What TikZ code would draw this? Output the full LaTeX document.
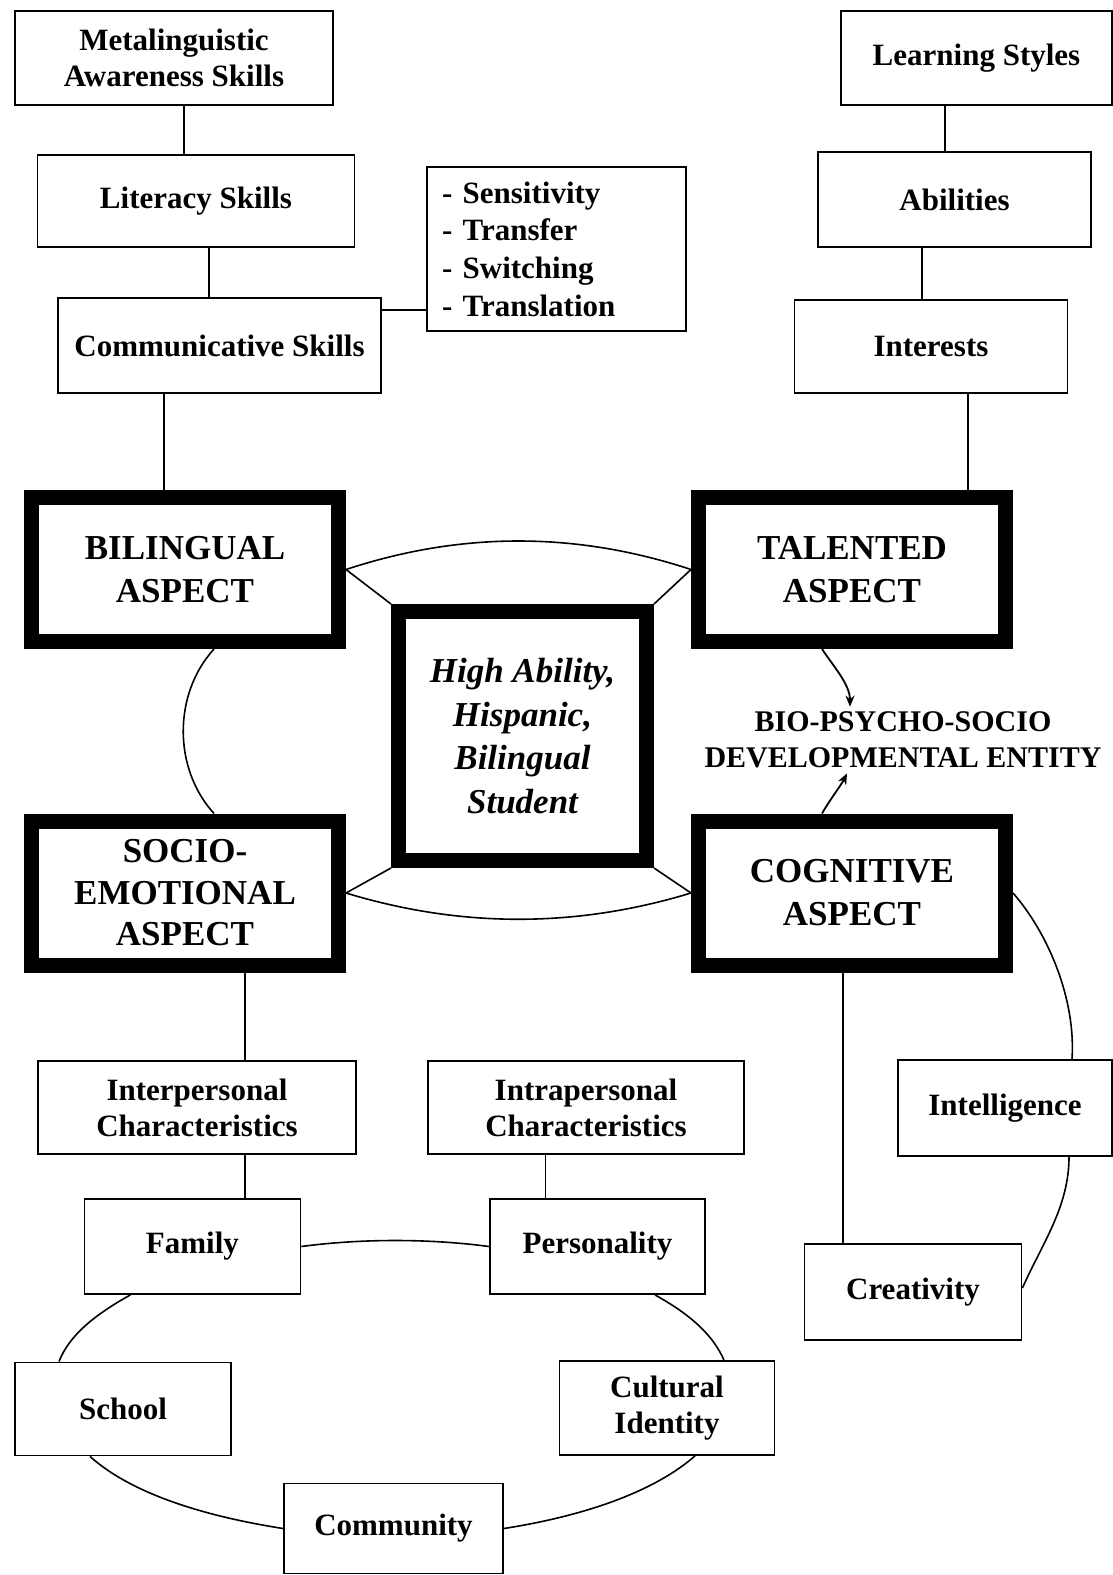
\documentclass[tikz,border=0pt]{standalone}
\usepackage{fontspec}
\setmainfont{Liberation Serif}
\usetikzlibrary{arrows.meta,calc}
\begin{document}
\begin{tikzpicture}[x=1pt,y=-1pt,
  tb/.style={draw, line width=1.8pt, fill=white, align=center, inner sep=0pt,
    font=\bfseries\fontsize{31}{36}\selectfont},
  thk/.style={draw, line width=15pt, fill=white, align=center, inner sep=0pt,
    minimum width=307pt, minimum height=144pt,
    font=\bfseries\fontsize{35}{43}\selectfont},
  ln/.style={line width=1.6pt},
  arr/.style={line width=1.8pt, -{Stealth[length=11pt,width=9pt]}}
]
\useasboundingbox[fill=white] (0,0) rectangle (1113,1575);

% top left chain
\node[tb, minimum width=318pt, minimum height=94pt] (meta) at (174,58) {Metalinguistic\\Awareness Skills};
\node[tb, minimum width=317pt, minimum height=92pt] (lit) at (196,201) {Literacy Skills};
\node[tb, minimum width=323pt, minimum height=95pt] (comm) at (219.5,345.5) {Communicative Skills};
\node[tb, text width=229pt, inner xsep=15pt, minimum height=164pt, align=left,
  font=\bfseries\fontsize{31}{37.7}\selectfont] (list) at (556.5,249)
  {-\ Sensitivity\\- Transfer\\-\ Switching\\- Translation};

% top right chain
\node[tb, minimum width=271pt, minimum height=94pt] (learn) at (976.5,58) {Learning Styles};
\node[tb, minimum width=273pt, minimum height=95pt] (abil) at (954.5,199.5) {Abilities};
\node[tb, minimum width=273pt, minimum height=93pt] (int) at (931,346.5) {Interests};

% aspects
\node[thk] (bil) at (185,569.5) {BILINGUAL\\ASPECT};
\node[thk] (tal) at (852,569.5) {TALENTED\\ASPECT};
\node[thk, font=\bfseries\fontsize{35}{41.5}\selectfont] (soc) at (185,893) {SOCIO-\\EMOTIONAL\\ASPECT};
\node[thk] (cog) at (852,893) {COGNITIVE\\ASPECT};
\node[draw, line width=15pt, fill=white, align=center, inner sep=0pt,
  minimum width=248pt, minimum height=249pt,
  font=\bfseries\itshape\fontsize{35}{43.5}\selectfont] (ctr) at (522.5,736)
  {High Ability,\\Hispanic,\\Bilingual\\Student};
\node[align=center, inner sep=5pt, font=\bfseries\fontsize{30}{36}\selectfont] (bio) at (903,740)
  {BIO-PSYCHO-SOCIO\\DEVELOPMENTAL ENTITY};

% lower boxes
\node[tb, minimum width=318pt, minimum height=93pt] (interp) at (197,1107.5) {Interpersonal\\Characteristics};
\node[tb, minimum width=316pt, minimum height=93pt] (intrap) at (586,1107.5) {Intrapersonal\\Characteristics};
\node[tb, minimum width=214pt, minimum height=96pt] (intel) at (1005,1108) {Intelligence};
\node[tb, minimum width=217pt, minimum height=96pt] (crea) at (913,1292) {Creativity};
\node[tb, minimum width=216pt, minimum height=95pt] (family) at (192.4,1246.5) {Family};
\node[tb, minimum width=215pt, minimum height=95pt] (pers) at (597.5,1246.5) {Personality};
\node[tb, minimum width=216pt, minimum height=93pt] (school) at (123,1409) {School};
\node[tb, minimum width=215pt, minimum height=94pt] (cult) at (667,1408) {Cultural\\Identity};
\node[tb, minimum width=219pt, minimum height=90pt] (cmty) at (393.5,1528.5) {Community};

% vertical connectors
\draw[ln] (184,0 |- meta.south) -- (184,0 |- lit.north);
\draw[ln] (209,0 |- lit.south) -- (209,0 |- comm.north);
\draw[ln] (164,0 |- comm.south) -- (164,0 |- bil.north);
\draw[ln] (945,0 |- learn.south) -- (945,0 |- abil.north);
\draw[ln] (922,0 |- abil.south) -- (922,0 |- int.north);
\draw[ln] (968,0 |- int.south) -- (968,0 |- tal.north);
\draw[ln] (comm.east |- 0,310) -- (list.west |- 0,310);
\draw[ln] (245,0 |- soc.south) -- (245,0 |- interp.north);
\draw[ln] (245,0 |- interp.south) -- (245,0 |- family.north);
\draw[ln] (545.5,0 |- intrap.south) -- (545.5,0 |- pers.north);
\draw[ln] (843,0 |- cog.south) -- (843,0 |- crea.north);

% centre connectors
\draw[ln] (bil.east) .. controls +(115,-38) and +(-115,-38) .. (tal.west);
\draw[ln] (soc.east) .. controls +(115,35) and +(-115,35) .. (cog.west);
\draw[ln] (bil.east) -- (ctr.north west);
\draw[ln] (tal.west) -- (ctr.north east);
\draw[ln] (soc.east) -- (ctr.south west);
\draw[ln] (cog.west) -- (ctr.south east);
\draw[ln] ([xshift=29pt]bil.south) .. controls +(-41,45) and +(-41,-45) .. ([xshift=29pt]soc.north);

% bio arrows
\draw[arr] ([xshift=-30pt]tal.south) .. controls +(12,18) and +(0,-22) .. ([xshift=-53pt]bio.north);
\draw[arr] ([xshift=-30pt]cog.north) .. controls +(8,-14) and +(-6,12) .. ([xshift=-56pt]bio.south);

% cognitive ring
\draw[ln] (cog.east) .. controls +(35,40) and +(4,-60) .. ([xshift=67pt]intel.north);
\draw[ln] ([xshift=64pt]intel.south) .. controls +(0,50) and +(20,-45) .. ([yshift=4pt]crea.east);

% socio ring
\draw[ln] (family.east) .. controls +(60,-8) and +(-60,-8) .. (pers.west);
\draw[ln] ([xshift=-62pt]family.south) .. controls +(-36,20) and +(10,-26) .. ([xshift=-64pt]school.north);
\draw[ln] ([xshift=-33pt]school.south) .. controls +(40,36) and +(-83,-13) .. (cmty.west);
\draw[ln] (cmty.east) .. controls +(83,-13) and +(-40,35) .. ([xshift=28pt]cult.south);
\draw[ln] ([xshift=57pt]cult.north) .. controls +(-11,-25) and +(36,20) .. ([xshift=57.5pt]pers.south);
\end{tikzpicture}
\end{document}
